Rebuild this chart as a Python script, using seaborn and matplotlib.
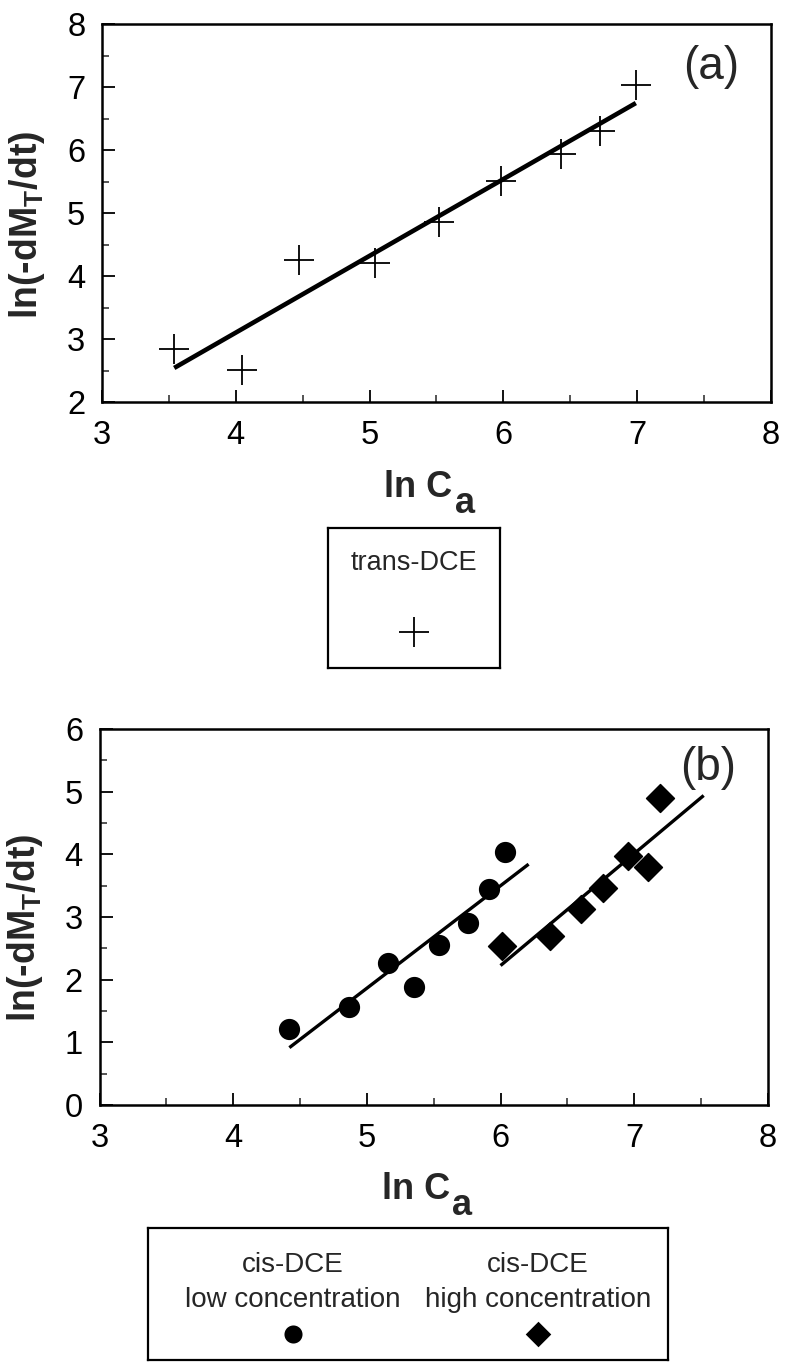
import numpy as np
import pandas as pd
import seaborn as sns
import matplotlib
matplotlib.use("Agg")
import matplotlib.pyplot as plt
from matplotlib.ticker import MultipleLocator

# ---- data: ln(-dM_T/dt) versus ln C_a ----
trans_lnC = [3.54, 4.05, 4.47, 5.04, 5.52, 5.98, 6.43, 6.72, 6.99]
trans_rate = [2.85, 2.51, 4.26, 4.21, 4.86, 5.51, 5.95, 6.30, 7.04]
trans_fit_range = [3.54, 6.99]

cis_low_lnC = [4.42, 4.865, 5.16, 5.35, 5.54, 5.76, 5.91, 6.03]
cis_low_rate = [1.21, 1.57, 2.27, 1.88, 2.55, 2.91, 3.44, 4.04]
cis_low_fit_range = [4.42, 6.21]

cis_high_lnC = [6.01, 6.37, 6.60, 6.77, 6.95, 7.10, 7.19]
cis_high_rate = [2.53, 2.69, 3.13, 3.46, 3.97, 3.80, 4.90]
cis_high_fit_range = [6.00, 7.52]

x_ticks = [3, 4, 5, 6, 7, 8]
y_ticks_a = [2, 3, 4, 5, 6, 7, 8]
y_ticks_b = [0, 1, 2, 3, 4, 5, 6]

sns.set_theme(style="ticks")
plt.rcParams["font.family"] = ["Liberation Sans", "DejaVu Sans"]
plt.rcParams["mathtext.default"] = "regular"

FONT = ["Liberation Sans", "DejaVu Sans"]
fig = plt.figure(figsize=(7.88, 13.63), dpi=100)
fig.patch.set_facecolor("white")

ax_a = fig.add_axes([0.1294, 0.7048, 0.849, 0.2773])
ax_b = fig.add_axes([0.1264, 0.1893, 0.848, 0.2759])


def fit_line(x, y, xr):
    slope, icpt = np.polyfit(x, y, 1)
    xs = np.array(xr)
    return pd.DataFrame({"x": xs, "y": slope * xs + icpt})


def style_axis(ax, yticks):
    ax.set_xlim(x_ticks[0], x_ticks[-1])
    ax.set_ylim(yticks[0], yticks[-1])
    ax.set_xticks(x_ticks)
    ax.set_yticks(yticks)
    ax.xaxis.set_minor_locator(MultipleLocator(0.5))
    ax.yaxis.set_minor_locator(MultipleLocator(0.5))
    ax.tick_params(which="major", direction="in", length=9, width=1.3,
                   labelsize=23.5, pad=12, colors="black")
    ax.tick_params(which="minor", direction="in", length=5, width=1.1)
    ax.tick_params(axis="x", pad=13)
    for sp in ax.spines.values():
        sp.set_visible(True)
        sp.set_linewidth(1.8)
        sp.set_color("black")
    ax.set_facecolor("white")
    ax.set_xlabel("")
    ax.set_ylabel(r"ln(-dM$_\mathregular{T}$/dt)", fontsize=27,
                  fontweight="bold", family=FONT)
    ax.yaxis.set_label_coords(-0.082, 0.47)
    # x axis title: "ln C" with a full-size lowered "a"
    ax.text(0.422, -0.25, "ln C", transform=ax.transAxes, fontsize=26,
            fontweight="bold", ha="left", va="baseline", family=FONT)
    ax.text(0.527, -0.293, "a", transform=ax.transAxes, fontsize=26,
            fontweight="bold", ha="left", va="baseline", family=FONT)


# ---- panel (a): trans-DCE ----
sns.scatterplot(x=trans_lnC, y=trans_rate, ax=ax_a, marker="+", s=440,
                color="black", linewidth=1.3, zorder=3)
fa = fit_line(trans_lnC, trans_rate, trans_fit_range)
sns.lineplot(data=fa, x="x", y="y", ax=ax_a, color="black", linewidth=3.3,
             solid_capstyle="butt", zorder=2)
style_axis(ax_a, y_ticks_a)
ax_a.text(7.55, 7.33, "(a)", fontsize=33, ha="center", va="center")

# ---- panel (b): cis-DCE ----
sns.scatterplot(x=cis_low_lnC, y=cis_low_rate, ax=ax_b, marker="o", s=200,
                color="black", edgecolor="black", zorder=3)
sns.scatterplot(x=cis_high_lnC, y=cis_high_rate, ax=ax_b, marker="D", s=200,
                color="black", edgecolor="black", zorder=3)
fl = fit_line(cis_low_lnC, cis_low_rate, cis_low_fit_range)
fh = fit_line(cis_high_lnC, cis_high_rate, cis_high_fit_range)
sns.lineplot(data=fl, x="x", y="y", ax=ax_b, color="black", linewidth=2.4,
             solid_capstyle="butt", zorder=2)
sns.lineplot(data=fh, x="x", y="y", ax=ax_b, color="black", linewidth=2.4,
             solid_capstyle="butt", zorder=2)
style_axis(ax_b, y_ticks_b)
ax_b.text(7.55, 5.38, "(b)", fontsize=33, ha="center", va="center")

# ---- legend boxes ----
def legend_box(rect):
    lg = fig.add_axes(rect)
    for sp in lg.spines.values():
        sp.set_visible(True)
        sp.set_linewidth(1.6)
        sp.set_color("black")
    lg.set_facecolor("white")
    return lg


def finish_box(lg):
    lg.set_xlim(0, 1)
    lg.set_ylim(0, 1)
    lg.set_xticks([])
    lg.set_yticks([])
    lg.set_xlabel("")
    lg.set_ylabel("")


lg_a = legend_box([0.416, 0.5099, 0.218, 0.1027])
lg_a.text(0.5, 0.75, "trans-DCE", fontsize=19.5, ha="center", va="center")
sns.scatterplot(x=[0.5], y=[0.26], ax=lg_a, marker="+", s=440,
                color="black", linewidth=1.3)
finish_box(lg_a)

lg_b = legend_box([0.1878, 0.0022, 0.66, 0.0968])
col_l, col_r = 0.279, 0.75
lg_b.text(col_l, 0.72, "cis-DCE", fontsize=20, ha="center", va="center")
lg_b.text(col_l, 0.455, "low concentration", fontsize=20, ha="center", va="center")
lg_b.text(col_r, 0.72, "cis-DCE", fontsize=20, ha="center", va="center")
lg_b.text(col_r, 0.455, "high concentration", fontsize=20, ha="center", va="center")
sns.scatterplot(x=[col_l], y=[0.2], ax=lg_b, marker="o", s=200, color="black")
sns.scatterplot(x=[col_r], y=[0.2], ax=lg_b, marker="D", s=200, color="black")
finish_box(lg_b)

fig.savefig("out.png", dpi=100, facecolor="white")
